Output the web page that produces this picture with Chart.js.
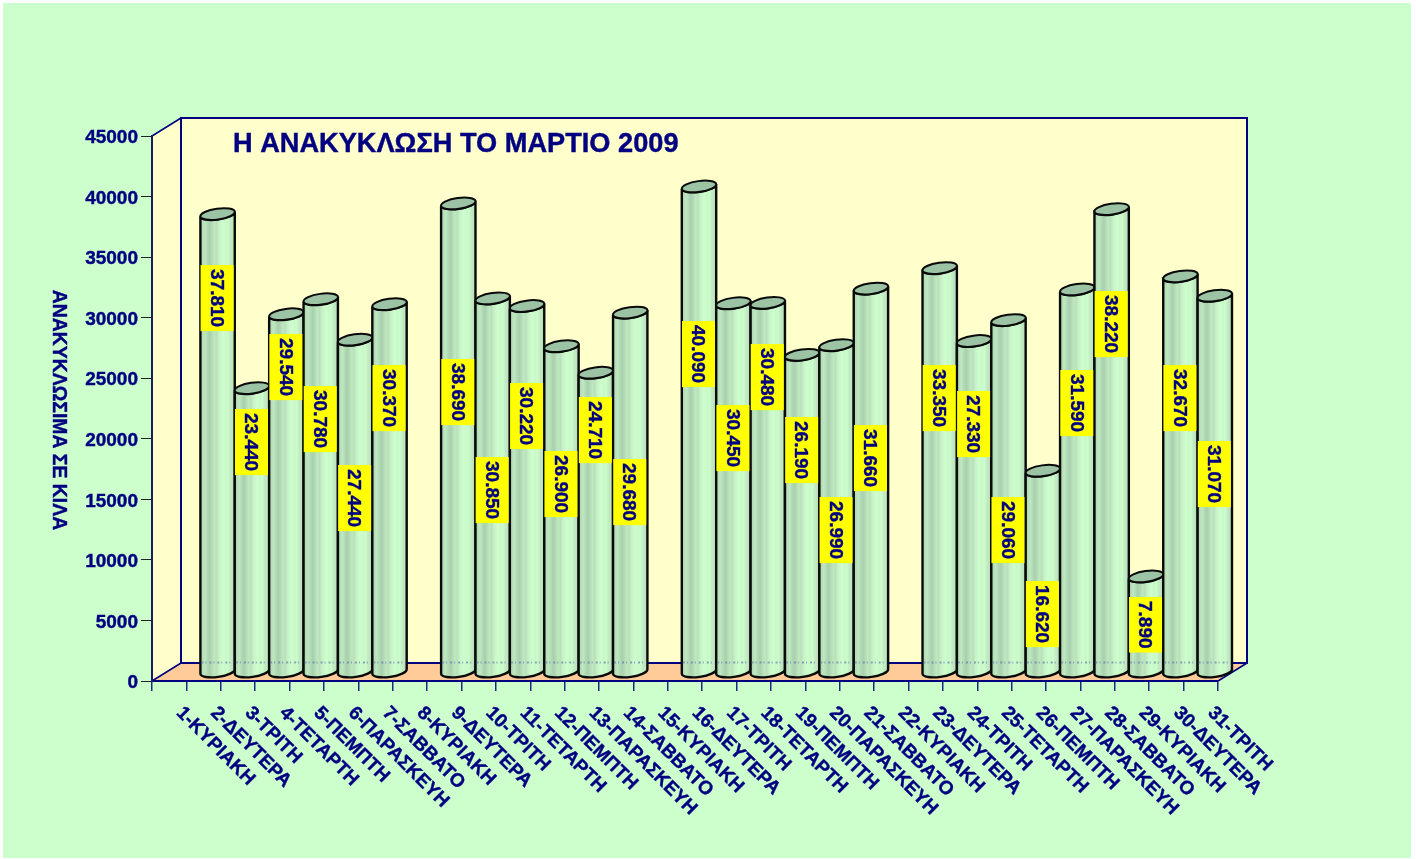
<!DOCTYPE html>
<html>
<head>
<meta charset="utf-8">
<title>Ανακύκλωση Μάρτιος 2009</title>
<script src="https://cdn.jsdelivr.net/npm/chart.js@4"></script>
<style>
  html, body { margin: 0; padding: 0; background: #fff; }
  canvas { display: block; }
</style>
</head>
<body>
<canvas id="myChart" width="1416" height="859"></canvas>
<script>
var days = ["1-ΚΥΡΙΑΚΗ", "2-ΔΕΥΤΕΡΑ", "3-ΤΡΙΤΗ", "4-ΤΕΤΑΡΤΗ", "5-ΠΕΜΠΤΗ", "6-ΠΑΡΑΣΚΕΥΗ", "7-ΣΑΒΒΑΤΟ",
  "8-ΚΥΡΙΑΚΗ", "9-ΔΕΥΤΕΡΑ", "10-ΤΡΙΤΗ", "11-ΤΕΤΑΡΤΗ", "12-ΠΕΜΠΤΗ", "13-ΠΑΡΑΣΚΕΥΗ", "14-ΣΑΒΒΑΤΟ",
  "15-ΚΥΡΙΑΚΗ", "16-ΔΕΥΤΕΡΑ", "17-ΤΡΙΤΗ", "18-ΤΕΤΑΡΤΗ", "19-ΠΕΜΠΤΗ", "20-ΠΑΡΑΣΚΕΥΗ", "21-ΣΑΒΒΑΤΟ",
  "22-ΚΥΡΙΑΚΗ", "23-ΔΕΥΤΕΡΑ", "24-ΤΡΙΤΗ", "25-ΤΕΤΑΡΤΗ", "26-ΠΕΜΠΤΗ", "27-ΠΑΡΑΣΚΕΥΗ", "28-ΣΑΒΒΑΤΟ",
  "29-ΚΥΡΙΑΚΗ", "30-ΔΕΥΤΕΡΑ", "31-ΤΡΙΤΗ"];
var kilos = [0, 37810, 23440, 29540, 30780, 27440, 30370,
  0, 38690, 30850, 30220, 26900, 24710, 29680,
  0, 40090, 30450, 30480, 26190, 26990, 31660,
  0, 33350, 27330, 29060, 16620, 31590, 38220,
  7890, 32670, 31070];
var chartTitle = "Η ΑΝΑΚΥΚΛΩΣΗ ΤΟ ΜΑΡΤΙΟ 2009";
var yTitle = "ΑΝΑΚΥΚΛΩΣΙΜΑ ΣΕ ΚΙΛΑ";

// where the yellow value box starts on each column, picked by eye
var boxTops = [0, 265, 409, 334, 386, 465, 365,
  0, 359, 457, 383, 451, 397, 459,
  0, 321, 405, 344, 417, 497, 425,
  0, 365, 391, 497, 581, 370, 291,
  597, 365, 441];

var navy = "#000080";
var font = "Liberation Sans";
var depthX = 29, depthY = 18;   // 3d box depth
var bandStops = ["#a8d0ac", "#b6dfb8", "#bee8c0", "#b2dab6", "#a8d0ae", "#b2dab4", "#c0e8c0", "#b8e0ba", "#c6f0c6", "#ccf8cc", "#ccffcc", "#c8f8c8", "#ccfccc", "#c4ecc4", "#bce6be", "#acd4b0"];

function cylinder(ctx, el) {
  var cx = el.x + depthX / 2 - 0.5, half = el.width / 2;
  var top = el.y - depthY / 2, bottom = el.base - depthY / 2;
  var rot = -8 * Math.PI / 180, rx = half / Math.cos(rot), ry = 5.4;
  var dy = half * Math.tan(-rot);

  var g = ctx.createLinearGradient(cx - half, 0, cx + half, 0);
  bandStops.forEach(function (c, i) { g.addColorStop(i / (bandStops.length - 1), c); });

  ctx.beginPath();
  ctx.moveTo(cx - half, top + dy);
  ctx.lineTo(cx - half, bottom + dy);
  ctx.ellipse(cx, bottom, rx, ry, rot, Math.PI, 0, true);
  ctx.lineTo(cx + half, top - dy);
  ctx.ellipse(cx, top, rx, ry, rot, 0, Math.PI, false);
  ctx.closePath();
  ctx.fillStyle = g;
  ctx.fill();
  ctx.lineWidth = 2.4;
  ctx.strokeStyle = "#0a0a0a";
  ctx.stroke();

  ctx.beginPath();
  ctx.ellipse(cx, top, rx, ry, rot, 0, Math.PI * 2);
  ctx.fillStyle = "#9cc4a4";
  ctx.fill();
  ctx.lineWidth = 2;
  ctx.stroke();

  // back wall line shows through the columns as a faint dotted line
  ctx.save();
  ctx.beginPath();
  ctx.setLineDash([2, 2, 1, 3]);
  ctx.moveTo(cx - half + 1, el.base - depthY);
  ctx.lineTo(cx + half - 1, el.base - depthY);
  ctx.strokeStyle = "rgba(90,110,170,0.6)";
  ctx.stroke();
  ctx.restore();
}

function valueBox(ctx, el, value, boxTop) {
  var text = (value / 1000).toFixed(3);
  var cx = el.x + depthX / 2 - 1;
  ctx.font = "bold 19px '" + font + "'";
  var h = ctx.measureText(text).width + 8;
  ctx.fillStyle = "#ffff00";
  ctx.fillRect(cx - 16.5, boxTop, 33, h);
  ctx.save();
  ctx.translate(cx, boxTop + h / 2);
  ctx.rotate(Math.PI / 2);
  ctx.fillStyle = navy;
  ctx.strokeStyle = navy;
  ctx.lineWidth = 0.4;
  ctx.textAlign = "center";
  ctx.textBaseline = "middle";
  ctx.fillText(text, 0, 1);
  ctx.strokeText(text, 0, 1);
  ctx.restore();
}

var box3d = {
  id: "box3d",
  beforeDraw: function (chart) {
    var ctx = chart.ctx, a = chart.chartArea;
    var l = a.left, r = a.right, t = a.top, b = a.bottom;
    ctx.save();
    ctx.fillStyle = "#ccffcc";
    ctx.fillRect(3, 3, 1408, 855);

    // walls and floor
    ctx.fillStyle = "#ffffcc";
    ctx.fillRect(l + depthX, t - depthY, r - l, b - t);
    ctx.beginPath();
    ctx.moveTo(l, t); ctx.lineTo(l + depthX, t - depthY); ctx.lineTo(l + depthX, b - depthY); ctx.lineTo(l, b);
    ctx.closePath();
    ctx.fill();
    ctx.fillStyle = "#ffcc99";
    ctx.beginPath();
    ctx.moveTo(l, b); ctx.lineTo(l + depthX, b - depthY); ctx.lineTo(r + depthX, b - depthY); ctx.lineTo(r, b);
    ctx.closePath();
    ctx.fill();

    ctx.strokeStyle = navy;
    ctx.lineWidth = 2;
    ctx.strokeRect(l + depthX, t - depthY, r - l, b - t);
    ctx.lineWidth = 1.5;
    ctx.beginPath();
    ctx.moveTo(l, t); ctx.lineTo(l + depthX, t - depthY);
    ctx.moveTo(l, b); ctx.lineTo(l + depthX, b - depthY);
    ctx.moveTo(r, b); ctx.lineTo(r + depthX, b - depthY);
    ctx.stroke();
    ctx.restore();
  },
  beforeDatasetDraw: function (chart, args) {
    var ctx = chart.ctx;
    ctx.save();
    args.meta.data.forEach(function (el, i) {
      if (kilos[i] > 0) cylinder(ctx, el);
    });
    args.meta.data.forEach(function (el, i) {
      if (kilos[i] > 0) valueBox(ctx, el, kilos[i], boxTops[i]);
    });
    ctx.restore();
    return false;
  },
  afterDraw: function (chart) {
    var ctx = chart.ctx, xs = chart.scales.x;
    ctx.save();
    ctx.fillStyle = navy;
    ctx.strokeStyle = navy;
    ctx.lineWidth = 0.4;
    ctx.textBaseline = "middle";
    ctx.textAlign = "left";

    ctx.font = "bold 27.2px '" + font + "'";
    ctx.fillText(chartTitle, 233, 144.5);
    ctx.strokeText(chartTitle, 233, 144.5);

    // day names run down to the right, chart.js only right-aligns rotated ticks
    ctx.font = "bold 19px '" + font + "'";
    days.forEach(function (d, i) {
      ctx.save();
      ctx.translate(xs.getPixelForTick(i) + 10, 710);
      ctx.rotate(Math.PI / 4);
      ctx.fillText(d, 0, 0);
      ctx.strokeText(d, 0, 0);
      ctx.restore();
    });

    ctx.font = "bold 19.4px '" + font + "'";
    ctx.translate(58, 410);
    ctx.rotate(Math.PI / 2);
    ctx.textAlign = "center";
    ctx.fillText(yTitle, 0, 0);
    ctx.strokeText(yTitle, 0, 0);
    ctx.restore();
  }
};

new Chart("myChart", {
  type: "bar",
  data: {
    labels: days,
    datasets: [{
      data: kilos,
      backgroundColor: "#b4dcb8",
      borderColor: "#0a0a0a",
      barPercentage: 1,
      categoryPercentage: 1
    }]
  },
  plugins: [box3d],
  options: {
    responsive: false,
    animation: false,
    layout: { padding: { left: 0, right: 198, top: 136, bottom: 0 } },
    plugins: { legend: { display: false }, tooltip: { enabled: false } },
    scales: {
      x: {
        afterFit: function (s) { s.height = 178; },
        border: { color: navy, width: 2 },
        grid: { drawOnChartArea: false, color: "#1a2a80", lineWidth: 1.5, tickLength: 10 },
        ticks: { display: false }
      },
      y: {
        min: 0,
        max: 45000,
        afterFit: function (s) { s.width = 152; },
        border: { color: "#1a1a60", width: 2 },
        grid: { drawOnChartArea: false, color: "#222", lineWidth: 1, tickLength: 11 },
        ticks: {
          stepSize: 5000,
          padding: 3,
          labelOffset: 2,
          color: navy,
          textStrokeColor: navy,
          textStrokeWidth: 0.4,
          font: { family: font, size: 19, weight: "bold" },
          callback: function (v) { return String(v); }
        }
      }
    }
  }
});
</script>
</body>
</html>
